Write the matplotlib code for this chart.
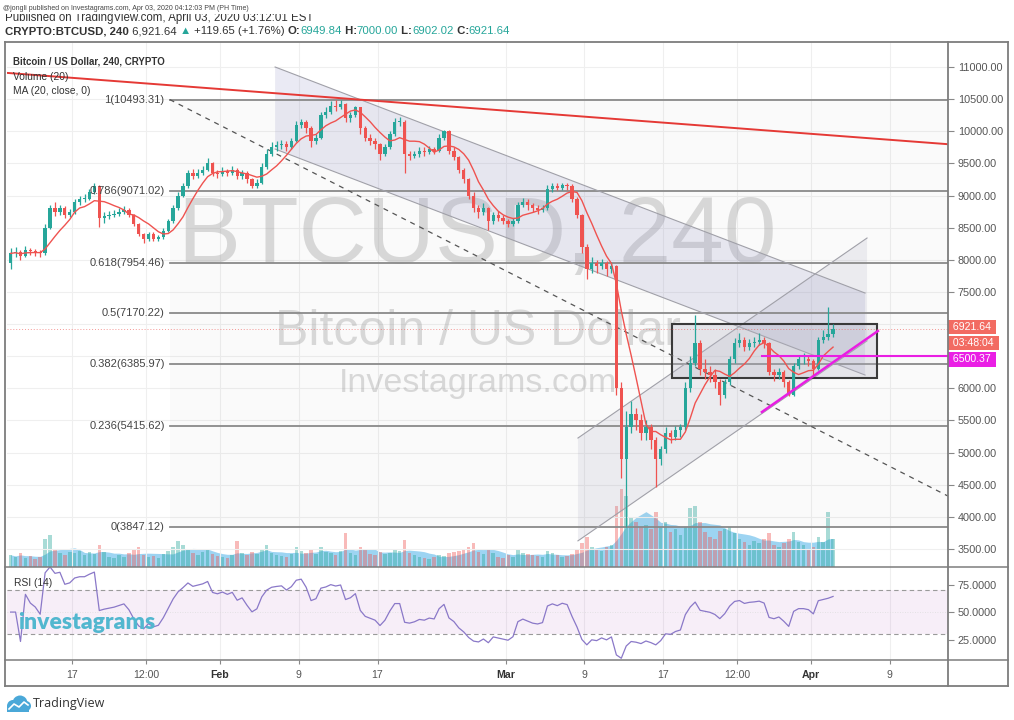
import numpy as np
import pandas as pd
import matplotlib
matplotlib.use("Agg")
import matplotlib.pyplot as plt
import matplotlib.transforms as mtrans
from matplotlib.patches import Rectangle, Polygon, Circle
from matplotlib.lines import Line2D

plt.rcParams['font.family'] = ['Liberation Sans', 'DejaVu Sans']

# ---------------------------------------------------------------- data
# 12-hour candles, day numbers counted from Jan 1 2020 (= day 0)
first_open = 7950.0
bar_start_day = 9.75
bar_step_day = 0.5

closes = [
    8100,
    8120, 8060, 8150, 8130, 8120, 8100, 8500, 8800, 8750, 8800,
    8700, 8740, 8900, 8950, 8950, 9050, 9150, 8650, 8680, 8700,
    8720, 8750, 8780, 8700, 8550, 8400, 8330, 8400, 8330, 8350,
    8450, 8600, 8800, 9000, 9150, 9350, 9300, 9350, 9400, 9500,
    9350, 9330, 9380, 9350, 9400, 9300, 9350, 9250, 9150, 9200,
    9450, 9650, 9750, 9780, 9800, 9750, 9850, 10100, 10150, 10050,
    9850, 9900, 10250, 10300, 10400, 10380, 10420, 10200, 10250, 10370,
    10050, 9900, 9850, 9800, 9650, 9750, 9950, 10150, 10150, 9650,
    9620, 9650, 9700, 9680, 9720, 9700, 9900, 10000, 9700, 9600,
    9400, 9250, 9000, 8800, 8750, 8800, 8600, 8700, 8650, 8600,
    8550, 8600, 8850, 8900, 8850, 8800, 8780, 8800, 9100, 9150,
    9120, 9170, 9150, 8950, 8700, 8200, 7850, 7950, 7900, 7950,
    7850, 7900, 6000, 4900, 5400, 5600, 5500, 5300, 5400, 5200,
    4900, 5050, 5300, 5250, 5350, 5400, 6000, 6400, 6700, 6300,
    6250, 6200, 6100, 5900, 6100, 6450, 6700, 6750, 6650, 6700,
    6720, 6750, 6700, 6250, 6200, 6250, 6100, 5900, 6350, 6450,
    6450, 6420, 6300, 6750, 6800, 6850,
    6921.64,
]

highs = [
    8180,
    8200, 8150, 8220, 8190, 8170, 8160, 8560, 8860, 8900, 8850,
    8830, 8790, 8950, 9000, 9020, 9100, 9195, 9170, 8740, 8760,
    8770, 8800, 8830, 8800, 8720, 8580, 8420, 8440, 8430, 8390,
    8490, 8640, 8850, 9060, 9200, 9400, 9420, 9420, 9460, 9585,
    9520, 9400, 9440, 9420, 9460, 9430, 9400, 9380, 9280, 9250,
    9500, 9720, 9830, 9850, 9860, 9850, 9900, 10160, 10190, 10170,
    10080, 9960, 10300, 10370, 10470, 10480, 10493.31, 10440, 10300, 10400,
    10380, 10080, 9950, 9900, 9820, 9800, 10000, 10200, 10220, 10180,
    9700, 9700, 9750, 9750, 9770, 9760, 9950, 10020, 10020, 9750,
    9620, 9430, 9280, 9050, 8850, 8880, 8820, 8750, 8760, 8700,
    8630, 8650, 8900, 8960, 8940, 8880, 8850, 8860, 9160, 9195,
    9190, 9195, 9200, 9180, 8980, 8720, 8250, 8050, 8000, 8020,
    7980, 7960, 7920, 6100, 5650, 5800, 5700, 5600, 5500, 5450,
    5250, 5100, 5400, 5350, 5420, 5450, 6100, 6500, 7140, 6750,
    6450, 6350, 6300, 6150, 6150, 6500, 6780, 6860, 6800, 6760,
    6800, 6860, 6800, 6720, 6300, 6320, 6280, 6130, 6400, 6520,
    6550, 6500, 6450, 6800, 6900, 7270,
    7000,
]

lows = [
    7850,
    8050, 8000, 8040, 8080, 8060, 8050, 8080, 8480, 8680, 8700,
    8650, 8660, 8720, 8860, 8900, 8930, 9020, 8510, 8580, 8640,
    8660, 8680, 8720, 8660, 8520, 8370, 8260, 8300, 8290, 8300,
    8320, 8430, 8580, 8780, 8970, 9120, 9260, 9270, 9320, 9380,
    9300, 9280, 9300, 9300, 9320, 9260, 9250, 9200, 9120, 9120,
    9180, 9420, 9620, 9700, 9720, 9700, 9720, 9830, 10050, 9980,
    9760, 9800, 9880, 10200, 10270, 10320, 10350, 10150, 10150, 10220,
    9950, 9850, 9780, 9720, 9550, 9620, 9720, 9930, 10080, 9350,
    9550, 9580, 9600, 9620, 9640, 9650, 9680, 9860, 9650, 9550,
    9350, 9200, 8950, 8750, 8650, 8700, 8465, 8560, 8600, 8550,
    8510, 8520, 8580, 8820, 8780, 8740, 8720, 8740, 8780, 9060,
    9080, 9090, 9090, 8900, 8650, 8100, 7700, 7800, 7800, 7850,
    7750, 7800, 5900, 4600, 3847.12, 5300, 5350, 5200, 5200, 5050,
    4470, 4800, 5000, 5150, 5200, 5250, 5350, 5950, 6350, 6200,
    6150, 6100, 6000, 5745, 5850, 6050, 6400, 6650, 6580, 6600,
    6640, 6680, 6620, 6200, 6120, 6150, 6020, 5880, 5880, 6300,
    6380, 6350, 6210, 6280, 6700, 6750,
    6800,
]

volumes = [
    12, 10, 14, 9, 11, 8, 10, 28, 32, 18, 14, 12, 15,
    14, 16, 12, 15, 13, 22,
    15, 10, 9, 12, 10, 14, 18, 20,
    12, 10, 11, 9, 13, 16, 20, 26,
    22, 18, 14, 12, 15, 18, 13, 11,
    10, 9, 12, 26, 14, 12, 15, 13,
    18, 22, 14, 12, 11, 10, 13, 20,
    16, 14, 18, 13, 20, 15, 14, 12,
    16, 34, 14, 12, 20, 18, 13, 12,
    15, 13, 14, 18, 16, 27, 14, 12,
    10, 9, 8, 10, 12, 11, 14, 15,
    16, 18, 20, 24, 15, 13, 18, 14,
    10, 9, 12, 10, 18, 14, 13, 12,
    11, 10, 16, 14, 12, 10, 11, 13,
    18, 24, 30, 20, 18, 16, 20, 22,
    60, 77, 70, 50, 45, 40, 42, 38,
    55, 40, 45, 35, 38, 32, 40, 58,
    60, 45, 35, 30, 28, 36, 38, 40,
    34, 28, 25, 22, 26, 24, 28, 34,
    22, 20, 24, 28, 35, 25, 22, 18,
    20, 30, 25, 55, 28,
]

price_ticks = [3500, 4000, 4500, 5000, 5500, 6000, 6500, 7000, 7500,
               8000, 8500, 9000, 9500, 10000, 10500, 11000]
shown_price_ticks = [t for t in price_ticks if t not in (6500, 7000)]
rsi_ticks = [25, 50, 75]
time_tick_days = [16, 23.5, 31, 39, 47, 60, 68, 76, 83.5, 91, 99]
time_tick_labels = ['17', '12:00', 'Feb', '9', '17', 'Mar', '9', '17', '12:00', 'Apr', '9']
month_labels = ['Feb', 'Mar', 'Apr']

fib_ratios = ['1', '0.786', '0.618', '0.5', '0.382', '0.236', '0']
fib_levels = [10493.31, 9071.02, 7954.46, 7170.22, 6385.97, 5415.62, 3847.12]
fib_start_day = 25.9

# drawings (day, price)
red_trend = [(9.4, 10908), (104.9, 9799)]
dashed_trend = [(25.9, 10493.31), (104.9, 4325)]
desc_channel_top = [(36.6, 11000), (96.5, 7483)]
desc_channel_width = 1276
asc_channel_top = [(67.35, 5227), (96.7, 8339)]
asc_channel_width = 1600
range_box = [(76.86, 6165), (97.67, 7001)]
magenta_trend = [(86.03, 5632), (97.8, 6892)]
magenta_level = 6500.37
last_price = 6921.64

# ---------------------------------------------------------------- layout
W, H = 1014, 720
fig = plt.figure(figsize=(W / 100, H / 100), dpi=100)
fig.patch.set_facecolor('white')

L, R, T, PB, RB, BB, OR = 7, 948, 42, 567, 660, 686, 1008
x_min_day, x_max_day = 9.38, 104.92
y_min_price, y_max_price = 3220, 11389

axv = fig.add_axes([L / W, 1 - PB / H, (R - L) / W, (PB - T) / H])
ax = fig.add_axes([L / W, 1 - PB / H, (R - L) / W, (PB - T) / H])
axr = fig.add_axes([L / W, 1 - RB / H, (R - L) / W, (RB - PB) / H])
ax.patch.set_visible(False)

for a in (ax, axv, axr):
    a.set_xlim(x_min_day, x_max_day)
    for s in a.spines.values():
        s.set_visible(False)

ax.set_ylim(y_min_price, y_max_price)

closes_a = np.array(closes, dtype=float)
highs_a = np.array(highs, dtype=float)
lows_a = np.array(lows, dtype=float)
vol_a = np.array(volumes, dtype=float)
opens_a = np.concatenate([[first_open], closes_a[:-1]])
days = bar_start_day + bar_step_day * np.arange(len(closes_a))
up = closes_a >= opens_a

UP, DN = '#26a69a', '#ef5350'

# grid
grid_c = '#efefef'
for d in time_tick_days:
    ax.axvline(d, color=grid_c, lw=0.8, zorder=0.1)
    axr.axvline(d, color=grid_c, lw=0.8, zorder=0.1)
for p in price_ticks:
    ax.axhline(p, color=grid_c, lw=0.8, zorder=0.1)

# volume
axv.set_ylim(0, vol_a.max() / 0.148)
vol_ma = pd.Series(vol_a).rolling(7, min_periods=1).mean().values
axv.fill_between(days, 0, vol_ma, color='#7cc6ee', alpha=0.75, lw=0, zorder=1)
axv.bar(days, vol_a, width=0.36, color=np.where(up, UP, DN), alpha=0.4, lw=0, zorder=2)
axv.set_yticks([])
axv.set_xticks([])

# watermark
wm = dict(transform=ax.transAxes, ha='center', va='center', color='#808080', alpha=0.28, zorder=0.2)
ax.text(0.5, 0.625, 'BTCUSD, 240', fontsize=68, **wm)
ax.text(0.5, 0.448, 'Bitcoin / US Dollar', fontsize=36, **wm)
ax.text(0.5, 0.350, 'Investagrams.com', fontsize=24.5, **wm)

# fib retracement
ax.fill_between([fib_start_day, x_max_day], min(fib_levels), max(fib_levels),
                color='#9e9e9e', alpha=0.05, lw=0, zorder=0.3)
for r, lv in zip(fib_ratios, fib_levels):
    ax.plot([fib_start_day, x_max_day], [lv, lv], color='#8a8a8a', lw=1.3, zorder=1.5)
    ax.annotate(f"{r}({lv:.2f})", xy=(fib_start_day, lv), xytext=(-5, 0),
                textcoords='offset pixels', ha='right', va='center', fontsize=8,
                color='#444444', zorder=5)

# channels
def channel(top, width, fc):
    (d0, p0), (d1, p1) = top
    poly = Polygon([(d0, p0), (d1, p1), (d1, p1 - width), (d0, p0 - width)],
                   closed=True, fc=fc, ec='none', zorder=0.6)
    ax.add_patch(poly)
    ax.plot([d0, d1], [p0, p1], color='#a0a0a8', lw=0.8, zorder=1.6)
    ax.plot([d0, d1], [p0 - width, p1 - width], color='#a0a0a8', lw=0.8, zorder=1.6)

channel(desc_channel_top, desc_channel_width, (0.56, 0.56, 0.76, 0.18))
channel(asc_channel_top, asc_channel_width, (0.6, 0.6, 0.7, 0.15))

# box
(bx0, by0), (bx1, by1) = range_box
ax.add_patch(Rectangle((bx0, by0), bx1 - bx0, by1 - by0, fc=(0.7, 0.7, 0.76, 0.3),
                       ec='#3a3a3a', lw=1.5, zorder=1.7))

# trend lines
ax.plot(*zip(*red_trend), color='#e53935', lw=1.4, zorder=2.5)
ax.plot(*zip(*dashed_trend), color='#555555', lw=0.9, ls=(0, (4, 4)), zorder=2.5)

# current price line
ax.axhline(last_price, color='#ef5350', lw=0.7, ls=(0, (1, 2)), alpha=0.6, zorder=1.8)

# candles
ax.vlines(days, lows_a, highs_a, colors=np.where(up, UP, DN), lw=0.9, zorder=3)
body_h = np.maximum(np.abs(closes_a - opens_a), 12)
ax.bar(days, body_h, bottom=np.minimum(opens_a, closes_a), width=0.34,
       color=np.where(up, UP, DN), lw=0, zorder=3.2)

# MA
ma = pd.Series(closes_a).rolling(7, min_periods=1).mean().values
ax.plot(days, ma, color='#ef5350', lw=1.0, zorder=3.5)

# magenta
ax.plot(*zip(*magenta_trend), color='#e91ee3', lw=1.8, zorder=4)
ax.plot([magenta_trend[0][0], x_max_day], [magenta_level, magenta_level], color='#e91ee3', lw=1.5, zorder=4)

# price axis
ax.yaxis.tick_right()
ax.set_yticks(shown_price_ticks)
ax.set_yticklabels([f"{t:.2f}" for t in shown_price_ticks])
ax.tick_params(axis='y', direction='out', length=4, width=0.8, color='#888888',
               labelsize=7.8, labelcolor='#555555', pad=3)
ax.set_xticks([])

blend = mtrans.blended_transform_factory(fig.transFigure, ax.transData)
box_kw = dict(xycoords=blend, textcoords='offset pixels', ha='left', va='center', fontsize=7.6,
              color='white', annotation_clip=False, zorder=10)
ax.annotate(' 6921.64 ', xy=(950 / W, last_price), xytext=(0, 2),
            bbox=dict(boxstyle='square,pad=0.22', fc='#f26b62', ec='none'), **box_kw)
ax.annotate(' 03:48:04 ', xy=(950 / W, last_price), xytext=(0, -14),
            bbox=dict(boxstyle='square,pad=0.22', fc='#f26b62', ec='none'), **box_kw)
ax.annotate(' 6500.37 ', xy=(950 / W, magenta_level), xytext=(0, -3),
            bbox=dict(boxstyle='square,pad=0.22', fc='#ea1fe5', ec='none'), **box_kw)

# legend texts
leg = dict(transform=fig.transFigure, ha='left', va='center', color='#333333', fontsize=7.4)
fig.text(13 / W, 1 - 61 / H, 'Bitcoin / US Dollar, 240, CRYPTO', weight='bold', fontsize=7.0,
         transform=fig.transFigure, ha='left', va='center', color='#333333')
fig.text(13 / W, 1 - 76.5 / H, 'Volume (20)', **leg)
fig.text(13 / W, 1 - 91 / H, 'MA (20, close, 0)', **leg)

# RSI
rsi_period = 11
delta = np.diff(closes_a, prepend=closes_a[0])
gain = pd.Series(np.clip(delta, 0, None)).ewm(alpha=1 / rsi_period, adjust=True).mean()
loss = pd.Series(np.clip(-delta, 0, None)).ewm(alpha=1 / rsi_period, adjust=True).mean()
rsi = (100 - 100 / (1 + gain / loss.replace(0, np.nan))).fillna(50).values
axr.set_ylim(6.4, 91)
axr.axhspan(30, 70, color='#9c27b0', alpha=0.08, lw=0, zorder=0.5)
axr.axhline(70, color='#9a9a9a', lw=0.8, ls=(0, (4, 3)), zorder=1)
axr.axhline(30, color='#9a9a9a', lw=0.8, ls=(0, (4, 3)), zorder=1)
axr.axhline(50, color='#dddddd', lw=0.6, ls=(0, (1, 2)), zorder=1)
axr.plot(days, rsi, color='#8a78c8', lw=0.9, zorder=3)
axr.yaxis.tick_right()
axr.set_yticks(rsi_ticks)
axr.set_yticklabels([f"{t:.4f}" for t in rsi_ticks])
axr.tick_params(axis='y', direction='out', length=4, width=0.8, color='#888888',
                labelsize=7.8, labelcolor='#555555', pad=3)
axr.set_xticks(time_tick_days)
axr.set_xticklabels(time_tick_labels)
axr.tick_params(axis='x', direction='out', length=3, width=0.8, color='#888888',
                labelsize=7.6, labelcolor='#555555', pad=4)
for tl in axr.get_xticklabels():
    if tl.get_text() in month_labels:
        tl.set_fontweight('bold')
        tl.set_color('#333333')
axr.text(0.0075, 0.83, 'RSI (14)', transform=axr.transAxes, fontsize=7.4,
         color='#333333', ha='left', va='center')
axr.text(0.0115, 0.40, 'investagrams', transform=axr.transAxes, fontsize=16.5,
         family=['Lato', 'DejaVu Sans'], weight='heavy', color='#52b7cf', ha='left', va='center', zorder=4)

# frame lines
fc = '#7d7d7d'
def fline(x0, y0, x1, y1, lw=1.3):
    fig.add_artist(Line2D([x0 / W, x1 / W], [1 - y0 / H, 1 - y1 / H], color=fc, lw=lw,
                          transform=fig.transFigure, zorder=20))
fline(5, T, OR, T)
fline(5, BB, OR, BB)
fline(5, T, 5, BB)
fline(OR, T, OR, BB)
fline(R, T, R, BB)
fline(5, PB, OR, PB, 1.1)
fline(5, RB, OR, RB, 1.1)

# header
fig.text(5 / W, 1 - 17.5 / H, 'Published on TradingView.com, April 03, 2020 03:12:01 EST',
         fontsize=8.3, color='#333333', ha='left', va='center', zorder=3)
fig.add_artist(Rectangle((0, 1 - 13.5 / H), 1, 13.5 / H, transform=fig.transFigure,
                         fc='white', ec='none', zorder=3.5))
fig.text(3 / W, 1 - 8.5 / H, '@jongli published on Investagrams.com, Apr 03, 2020 04:12:03 PM (PH Time)',
         fontsize=5.0, color='#444444', ha='left', va='center', zorder=4)

renderer = fig.canvas.get_renderer()
pieces = [
    ('CRYPTO:BTCUSD, 240', '#333333', 'bold'),
    (' 6,921.64 ', '#333333', 'normal'),
    ('\u25b2', UP, 'normal'),
    (' +119.65 (+1.76%) ', '#333333', 'normal'),
    ('O:', '#333333', 'bold'), ('6949.84', UP, 'normal'),
    (' H:', '#333333', 'bold'), ('7000.00', UP, 'normal'),
    (' L:', '#333333', 'bold'), ('6902.02', UP, 'normal'),
    (' C:', '#333333', 'bold'), ('6921.64', UP, 'normal'),
]
xc = 5.0
for txt, col, wt in pieces:
    t = fig.text(xc / W, 1 - 31.5 / H, txt, fontsize=8.2, color=col, weight=wt,
                 ha='left', va='center', family=['Liberation Sans', 'DejaVu Sans'])
    xc += t.get_window_extent(renderer=renderer).width

# TradingView logo
lax = fig.add_axes([5 / W, 1 - 712 / H, 26 / W, 18 / H])
lax.set_xlim(0, 26)
lax.set_ylim(0, 18)
lax.axis('off')
for cx, cy, rr in [(8, 6, 6), (15, 9, 7.5), (21, 6, 5)]:
    lax.add_patch(Circle((cx, cy), rr, color='#4aa8d8', lw=0))
lax.add_patch(Rectangle((2, 0.5), 22, 5.5, color='#4aa8d8', lw=0))
lax.plot([4, 9, 14, 19, 23], [3, 8, 5, 10, 7], color='white', lw=1.2)
fig.text(33 / W, 1 - 703 / H, 'TradingView', fontsize=9, color='#333333', ha='left', va='center',
         family=['Open Sans', 'DejaVu Sans'])

fig.savefig('out.png', dpi=100)
